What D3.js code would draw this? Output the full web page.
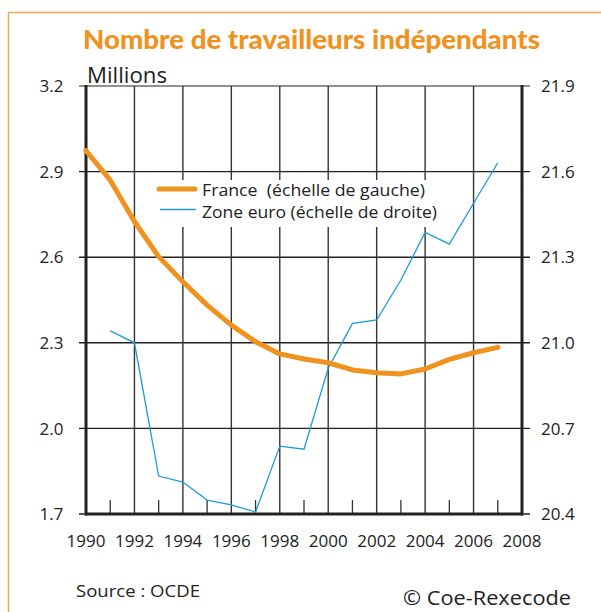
<!DOCTYPE html>
<html><head><meta charset="utf-8">
<script src="https://cdn.jsdelivr.net/npm/d3@7"></script>
<style>body{margin:0;background:#fff}svg{display:block}</style>
</head><body>
<svg id="c" width="601" height="612"></svg>
<script>
const years = d3.range(1990, 2008);
const franceYears = [1990,1991,1992,1993,1994,1995,1996,1997,1998,1999,2000,2001,2002,2003,2004,2005,2006,2007];
const franceValues = [2.973,2.87,2.725,2.602,2.514,2.432,2.362,2.304,2.261,2.243,2.230,2.205,2.195,2.191,2.208,2.242,2.265,2.284];
const euroYears = [1991,1992,1993,1994,1995,1996,1997,1998,1999,2000,2001,2002,2003,2004,2005,2006,2007];
const euroValues = [21.042,21.0,20.533,20.512,20.449,20.432,20.407,20.638,20.627,20.911,21.068,21.080,21.220,21.387,21.346,21.489,21.631];
const leftTicks = [1.7,2.0,2.3,2.6,2.9,3.2];
const rightTicks = [20.4,20.7,21.0,21.3,21.6,21.9];
const xTickYears = [1990,1992,1994,1996,1998,2000,2002,2004,2006,2008];
const title = "Nombre de travailleurs indépendants";
const unitLabel = "Millions";
const legendLabels = ["France  (échelle de gauche)", "Zone euro (échelle de droite)"];
const sourceText = "Source : OCDE";
const copyText = "© Coe-Rexecode";

const svg = d3.select("#c");
const font = "'Open Sans', 'Noto Sans', sans-serif";
const tfont = "Lato, sans-serif";
const orange = "#F0921E";
const blue = "#1B9BE0";
const ink = "#222";
const L = 86, R = 522, T = 86, B = 514;

const x = d3.scaleLinear().domain([1990, 2008]).range([L, R]);
const yL = d3.scaleLinear().domain([1.7, 3.2]).range([B, T]);
const yR = d3.scaleLinear().domain([20.4, 21.9]).range([B, T]);

svg.append("path").attr("d", `M8.5,612 V12.5 H601`).attr("fill","none")
  .attr("stroke","#F6A555").attr("stroke-width",1.5);

svg.append("text").attr("x", 83).attr("y", 49)
  .attr("font-family", tfont).attr("font-weight", 900).attr("font-size", 26.5)
  .attr("textLength", 457).attr("lengthAdjust", "spacingAndGlyphs")
  .attr("fill", orange).text(title);

svg.append("text").attr("x", 87).attr("y", 82.5).attr("font-family", font)
  .attr("font-size", 21.5).attr("fill", ink)
  .attr("textLength", 80).attr("lengthAdjust", "spacingAndGlyphs").text(unitLabel);

const g = svg.append("g");
g.selectAll("line.h").data(leftTicks).join("line")
  .attr("x1", L - 7).attr("x2", R + 8)
  .attr("y1", d => yL(d)).attr("y2", d => yL(d))
  .attr("stroke", ink).attr("stroke-width", d => d === 3.2 ? 1.2 : 1.4);
g.selectAll("line.v").data(xTickYears.filter(d => d > 1990 && d < 2008)).join("line")
  .attr("x1", d => x(d)).attr("x2", d => x(d)).attr("y1", T).attr("y2", B)
  .attr("stroke", "#333").attr("stroke-width", 1.4);
g.selectAll("line.m").data(years.filter(d => d % 2 === 1)).join("line")
  .attr("x1", d => x(d)).attr("x2", d => x(d)).attr("y1", B - 14).attr("y2", B)
  .attr("stroke", "#333").attr("stroke-width", 1.3);

svg.append("rect").attr("x", 152).attr("y", 180).attr("width", 290).attr("height", 47).attr("fill", "#fff");

svg.append("line").attr("x1", L).attr("x2", L).attr("y1", T - 1).attr("y2", B + 1.5).attr("stroke", ink).attr("stroke-width", 3);
svg.append("line").attr("x1", R).attr("x2", R).attr("y1", T - 1).attr("y2", B + 1.5).attr("stroke", ink).attr("stroke-width", 3);
svg.append("line").attr("x1", L - 1).attr("x2", R + 1).attr("y1", B).attr("y2", B).attr("stroke", ink).attr("stroke-width", 3);

svg.selectAll("text.yl").data(leftTicks).join("text")
  .attr("x", 63.5).attr("y", d => yL(d)).attr("dy", "0.36em").attr("text-anchor", "end")
  .attr("font-family", font).attr("font-size", 17).attr("fill", ink).text(d => d.toFixed(1));
svg.selectAll("text.yr").data(rightTicks).join("text")
  .attr("x", 541).attr("y", d => yR(d)).attr("dy", "0.36em").attr("text-anchor", "start")
  .attr("font-family", font).attr("font-size", 17).attr("fill", ink).text(d => d.toFixed(1));
svg.selectAll("text.xl").data(xTickYears).join("text")
  .attr("x", d => x(d)).attr("y", 547).attr("text-anchor", "middle")
  .attr("font-family", font).attr("font-size", 17).attr("fill", ink).text(d => d);

const lineEuro = d3.line().x((d, i) => x(euroYears[i])).y(d => yR(d));
svg.append("path").datum(euroValues).attr("d", lineEuro).attr("fill", "none")
  .attr("stroke", blue).attr("stroke-width", 1.3).attr("stroke-linejoin", "miter");
const lineFr = d3.line().x((d, i) => x(franceYears[i])).y(d => yL(d));
svg.append("path").datum(franceValues).attr("d", lineFr).attr("fill", "none")
  .attr("stroke", orange).attr("stroke-width", 5).attr("stroke-linejoin", "round").attr("stroke-linecap", "round");

const lg = svg.append("g");
lg.append("line").attr("x1", 159).attr("x2", 195).attr("y1", 189).attr("y2", 189)
  .attr("stroke", orange).attr("stroke-width", 5).attr("stroke-linecap", "round");
lg.append("line").attr("x1", 160).attr("x2", 196).attr("y1", 209.5).attr("y2", 209.5)
  .attr("stroke", blue).attr("stroke-width", 1.3);
const legendW = [223, 235];
lg.selectAll("text").data(legendLabels).join("text")
  .attr("x", 202).attr("y", (d, i) => 195.5 + i * 22)
  .attr("font-family", font).attr("font-size", 17).attr("fill", ink)
  .attr("textLength", (d, i) => legendW[i]).attr("lengthAdjust", "spacingAndGlyphs")
  .attr("xml:space", "preserve").style("white-space", "pre").text(d => d);

svg.append("text").attr("x", 76).attr("y", 597).attr("font-family", font)
  .attr("font-size", 16.5).attr("fill", ink)
  .attr("textLength", 124).attr("lengthAdjust", "spacingAndGlyphs").text(sourceText);
svg.append("text").attr("x", 403).attr("y", 605).attr("font-family", font)
  .attr("font-size", 20.5).attr("fill", ink)
  .attr("textLength", 168).attr("lengthAdjust", "spacingAndGlyphs").text(copyText);
</script>
</body></html>
